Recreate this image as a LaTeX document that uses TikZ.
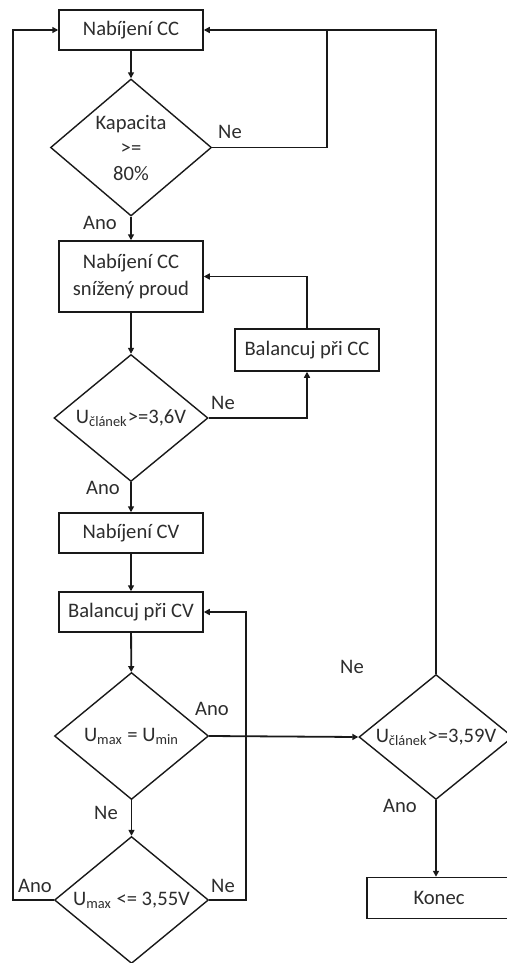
\documentclass[tikz,border=0pt]{standalone}
\usepackage{fontspec}
\setmainfont{Carlito}
\usepackage{tikz}
\usetikzlibrary{arrows.meta,shapes.geometric}
\definecolor{flowline}{RGB}{25,25,25}
\definecolor{flowtext}{RGB}{45,45,45}
\tikzset{
  pbox/.style ={rectangle, draw=flowline, line width=0.75pt, fill=white,
                minimum width=72pt, minimum height=20pt, inner sep=1pt,
                align=center, font=\fontsize{10.3}{13.5}\selectfont, text=flowtext},
  dbox/.style ={diamond, draw=flowline, line width=0.7pt, fill=white,
                minimum width=77pt, minimum height=63.5pt, inner sep=0pt,
                shape aspect=1.2, align=center,
                font=\fontsize{10.3}{12.75}\selectfont, text=flowtext},
  flow/.style ={-{Triangle[length=3pt, width=3pt]}, line width=0.9pt, flowline},
  fline/.style={line width=0.9pt, flowline},
  lbl/.style  ={font=\fontsize{10.3}{12}\selectfont, text=flowtext, inner sep=0pt},
}

\begin{document}
\begin{tikzpicture}[x=0.5pt, y=-0.5pt]
  \useasboundingbox (0,0) rectangle (507,963);
  \node[pbox] (cc) at (131,30) {Nabíjení CC};
  \node[dbox, minimum width=80.5pt, minimum height=68.5pt] (d1) at (131,147.5) {Kapacita\\>=\\80\%};
  \node[pbox, minimum height=35.5pt] (cs) at (131,276.5) {Nabíjení CC\\snížený proud};
  \node[pbox, minimum height=21pt] (bcc) at (307,350) {Balancuj při CC};
  \node[dbox] (d2) at (131,418) {U\textsubscript{článek}>=3,6V};
  \node[pbox] (cv) at (131,533) {Nabíjení CV};
  \node[pbox] (bcv) at (131,612) {Balancuj při CV};
  \node[dbox] (d3) at (131.5,736) {U\textsubscript{max} = U\textsubscript{min}};
  \node[dbox, minimum height=62.5pt] (d4) at (436,737) {U\textsubscript{článek}>=3,59V};
  \node[pbox, minimum width=72pt, minimum height=20.5pt] (konec) at (439,898) {Konec};
  \node[dbox] (d5) at (131.5,900) {U\textsubscript{max} <= 3,55V};
  \coordinate (j1) at (327,30);

  \node[lbl] (ne1)  at (230,132) {Ne};
  \node[lbl] (ano1) at (100,223) {Ano};
  \node[lbl] (ne2)  at (223,403) {Ne};
  \node[lbl] (ano2) at (103,488) {Ano};
  \node[lbl] (ano3) at (212,709) {Ano};
  \node[lbl] (ne3)  at (352,667) {Ne};
  \node[lbl] (ne4)  at (106,813) {Ne};
  \node[lbl] (ano4) at (400,806) {Ano};
  \node[lbl] (ano5) at (35,886)  {Ano};
  \node[lbl] (ne5)  at (223,886) {Ne};

  \draw[flow] (cc) -- (d1);
  \draw[flow] (d1) -- (cs);
  \draw[fline] (d1.east) -| (j1);
  \draw[flow] (d4.north) |- (cc.east);
  \draw[flow] (cs) -- (d2);
  \draw[flow] (d2.east) -| (bcc.south);
  \draw[flow] (bcc.north) |- (cs.east);
  \draw[flow] (d2) -- (cv);
  \draw[flow] (cv) -- (bcv);
  \draw[flow] (bcv) -- (d3);
  \draw[flow] (d3.east) -- (d4.west);
  \draw[flow] (d3) -- (d5);
  \draw[flow] (d4.south) -- (d4.south |- konec.north);
  \draw[flow] (d5.east) -- ++(37,0) |- (bcv.east);
  \draw[flow] (d5.west) -- ++(-41,0) |- (cc.west);
\end{tikzpicture}
\end{document}
